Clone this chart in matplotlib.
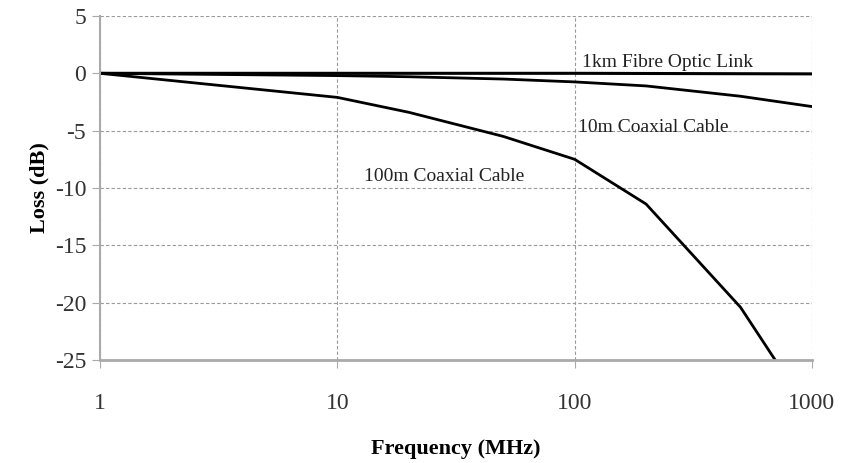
import matplotlib
matplotlib.use("Agg")
import matplotlib.pyplot as plt

# frequency points (MHz) and loss (dB)
fibre_freq = [1, 10, 100, 1000]
fibre_loss = [0.0, 0.0, 0.0, -0.05]

coax10_freq = [1, 10, 20, 50, 100, 200, 500, 1000]
coax10_loss = [0.0, -0.2, -0.3, -0.5, -0.75, -1.1, -2.0, -2.9]

coax100_freq = [1, 10, 20, 50, 100, 200, 500, 700]
coax100_loss = [0.0, -2.1, -3.4, -5.5, -7.5, -11.4, -20.4, -25.0]

y_ticks = [5, 0, -5, -10, -15, -20, -25]
x_ticks = [1, 10, 100, 1000]

plt.rcParams['font.family'] = ['Liberation Serif', 'DejaVu Serif']
plt.rcParams['axes.unicode_minus'] = False

fig = plt.figure(figsize=(8.44, 4.63), dpi=100)
ax = fig.add_axes([0.1185, 0.2225, 0.8435, 0.743])

ax.plot(fibre_freq, fibre_loss, color='black', lw=2.2)
ax.plot(coax10_freq, coax10_loss, color='black', lw=2.0)
ax.plot(coax100_freq, coax100_loss, color='black', lw=2.0)

ax.set_xscale('log')
ax.set_xlim(1, 1000)
ax.set_ylim(-25, 5)
ax.set_xticks(x_ticks)
ax.set_xticklabels([str(t) for t in x_ticks])
ax.minorticks_off()
ax.set_yticks(y_ticks)
ax.set_yticklabels([str(t) for t in y_ticks])

ax.grid(True, which='major', color='#999999', ls=(0, (3, 2)), lw=0.8)
for s in ['top', 'right']:
    ax.spines[s].set_visible(False)
ax.spines['bottom'].set_color('#aaaaaa')
ax.spines['bottom'].set_linewidth(2)
ax.spines['left'].set_color('#aaaaaa')
ax.spines['left'].set_linewidth(1.5)

ax.tick_params(axis='y', direction='out', length=6, color='#aaaaaa',
               labelsize=17, labelcolor='#333333', pad=4)
ax.tick_params(axis='x', direction='out', length=6, color='#aaaaaa',
               labelsize=17, labelcolor='#333333', pad=18)

ax.set_xlabel('Frequency (MHz)', fontsize=16, fontweight='bold', labelpad=18)
ax.set_ylabel('Loss (dB)', fontsize=16, fontweight='bold', labelpad=4)

ax.text(107, 0.9, '1km Fibre Optic Link', fontsize=14, color='#222222',
        ha='left', va='center')
ax.text(103, -4.75, '10m Coaxial Cable', fontsize=14, color='#222222',
        ha='left', va='center')
ax.text(13, -9.0, '100m Coaxial Cable', fontsize=14, color='#222222',
        ha='left', va='center')

fig.savefig('out.png', dpi=100)
